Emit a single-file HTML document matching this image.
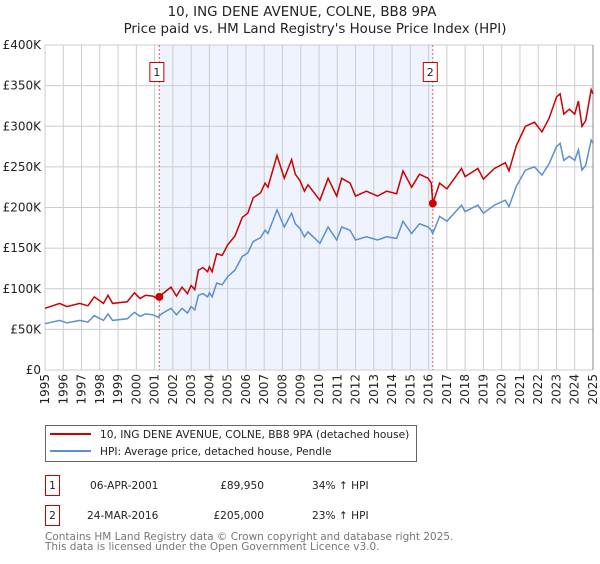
<!DOCTYPE html>
<html><head><meta charset="utf-8"><style>
body{margin:0;background:#fff;font-family:"DejaVu Sans","Liberation Sans",sans-serif;}
svg text{font-family:"DejaVu Sans","Liberation Sans",sans-serif;}
</style></head><body>
<svg id="c" width="600" height="560" xmlns="http://www.w3.org/2000/svg">
<text x="302" y="16" text-anchor="middle" font-size="13.4" fill="#222">10, ING DENE AVENUE, COLNE, BB8 9PA</text>
<text x="315" y="33" text-anchor="middle" font-size="13.4" fill="#222">Price paid vs. HM Land Registry's House Price Index (HPI)</text>
<g id="plot"></g>
<rect x="45.5" y="425.5" width="371" height="36" fill="#fff" stroke="#666"/>
<line x1="50" y1="434" x2="91" y2="434" stroke="#cc0000" stroke-width="2"/>
<text x="100" y="438" font-size="10.6" fill="#222">10, ING DENE AVENUE, COLNE, BB8 9PA (detached house)</text>
<line x1="50" y1="451" x2="91" y2="451" stroke="#5b8fd4" stroke-width="2"/>
<text x="100" y="455" font-size="10.6" fill="#222">HPI: Average price, detached house, Pendle</text>
<g font-size="10.6" fill="#222">
<rect x="45.5" y="475.5" width="14" height="20" fill="none" stroke="#cc0000"/>
<text x="52.5" y="489" text-anchor="middle">1</text>
<text x="90" y="489">06-APR-2001</text>
<text x="264" y="489" text-anchor="end">£89,950</text>
<text x="312" y="489">34% ↑ HPI</text>
<rect x="45.5" y="505.5" width="14" height="20" fill="none" stroke="#cc0000"/>
<text x="52.5" y="519" text-anchor="middle">2</text>
<text x="87" y="519">24-MAR-2016</text>
<text x="264" y="519" text-anchor="end">£205,000</text>
<text x="312" y="519">23% ↑ HPI</text>
</g>
<text x="45" y="540" font-size="10.5" fill="#777">Contains HM Land Registry data © Crown copyright and database right 2025.</text>
<text x="45" y="550" font-size="10.5" fill="#777">This data is licensed under the Open Government Licence v3.0.</text>
</svg>
<script>
const years=[1995.0,1995.8,1996.2,1996.9,1997.35,1997.7,1998.2,1998.45,1998.7,1999.5,1999.9,2000.2,2000.5,2000.9,2001.2,2001.26,2001.45,2001.9,2002.2,2002.5,2002.8,2003.0,2003.2,2003.4,2003.65,2003.9,2004.0,2004.15,2004.4,2004.7,2005.0,2005.4,2005.8,2006.1,2006.4,2006.8,2007.05,2007.2,2007.7,2008.1,2008.5,2008.7,2008.96,2009.2,2009.4,2010.05,2010.5,2010.97,2011.24,2011.7,2012.0,2012.6,2013.2,2013.7,2014.25,2014.6,2015.07,2015.5,2015.97,2016.15,2016.23,2016.6,2017.0,2017.8,2018.0,2018.7,2019.0,2019.6,2020.2,2020.4,2020.8,2021.3,2021.8,2022.2,2022.6,2023.0,2023.2,2023.4,2023.7,2024.0,2024.2,2024.4,2024.6,2024.9,2025.0];
const hpi=[57,61,58,61,59,67,61,69,61,63,71,66,69,68,65,67,70,76,68,76,70,78,74,92,94,90,95,90,107,105,115,123,140,144,158,163,172,168,197,176,193,180,174,164,170,156,176,160,176,172,160,164,160,164,162,183,168,180,176,172,168,189,183,203,195,203,193,203,209,201,226,246,250,240,254,275,279,258,263,258,271,246,252,283,279];
const property=[76,82,78,82,79,90,82,92,82,84,95,88,92,91,87,89.95,94,102,91,102,94,104,99,123,126,121,127,121,143,141,154,165,188,193,212,218,230,225,264,236,259,241,233,220,228,209,236,214,236,230,214,220,214,220,217,245,225,241,236,230,205,230,223,248,238,248,235,248,255,245,276,300,305,293,310,336,340,315,321,315,331,300,307,345,340];
const saleYears=[2001.26,2016.23];
const salePrices=[89.95,205];
const saleLabels=["1","2"];
const yTicks=[0,50,100,150,200,250,300,350,400];
const yTickLabels=["£0","£50K","£100K","£150K","£200K","£250K","£300K","£350K","£400K"];
const xTicks=[1995,1996,1997,1998,1999,2000,2001,2002,2003,2004,2005,2006,2007,2008,2009,2010,2011,2012,2013,2014,2015,2016,2017,2018,2019,2020,2021,2022,2023,2024,2025];

const X0=45,X1=593,Y0=370,Y1=45;
const sx=y=>X0+(y-1995)/30*(X1-X0);
const sy=v=>Y0-v/400*(Y0-Y1);
const NS="http://www.w3.org/2000/svg";
const g=document.getElementById('plot');
function mk(t,a){const e=document.createElementNS(NS,t);for(const k in a)e.setAttribute(k,a[k]);g.appendChild(e);return e;}
let e;
e=mk('rect',{x:sx(saleYears[0]),y:Y1,width:sx(saleYears[1])-sx(saleYears[0]),height:Y0-Y1,fill:'#eef3fd'});


yTicks.forEach((v,i)=>{
 e=mk('line',{x1:X0,x2:X1,y1:sy(v),y2:sy(v),stroke:'#cccccc','stroke-width':1});
 
 
 e=mk('text',{x:X0-4,y:sy(v)+4,'text-anchor':'end','font-size':'12',fill:'#222'});
 e.textContent=yTickLabels[i];
 
 
});
xTicks.forEach(y=>{
 e=mk('line',{x1:sx(y),x2:sx(y),y1:Y1,y2:Y0,stroke:'#cccccc','stroke-width':1});
 
 
 e=mk('text',{x:0,y:0,'text-anchor':'end','font-size':'12',fill:'#222',transform:`translate(${sx(y)+4},${Y0+4}) rotate(-90)`});
 e.textContent=y;
 
 
});
e=mk('line',{x1:X1,x2:X1,y1:Y1,y2:Y0,stroke:'#888','stroke-width':1});


saleYears.forEach((y,i)=>{
 e=mk('line',{x1:sx(y),x2:sx(y),y1:Y1,y2:Y0,stroke:'#e06060','stroke-width':1,'stroke-dasharray':'2,2'});
 
 
});
function path(vals){return vals.map((v,i)=>(i?'L':'M')+sx(years[i]).toFixed(1)+','+sy(v).toFixed(1)).join('');}
e=mk('path',{d:path(hpi),fill:'none',stroke:'#5b8fd4','stroke-width':1.5});


e=mk('path',{d:path(property),fill:'none',stroke:'#cc0000','stroke-width':1.5});


saleYears.forEach((y,i)=>{
 e=mk('circle',{cx:sx(y),cy:sy(salePrices[i]),r:4,fill:'#cc0000'});
 
 
 e=mk('rect',{x:sx(y)-9.5,y:62.5,width:14,height:19,fill:'#fff',stroke:'#cc0000'});
 
 
 e=mk('text',{x:sx(y)-2.5,y:76,'text-anchor':'middle','font-size':'11',fill:'#222'});
 e.textContent=saleLabels[i];
 
 
});
</script>
</body></html>
